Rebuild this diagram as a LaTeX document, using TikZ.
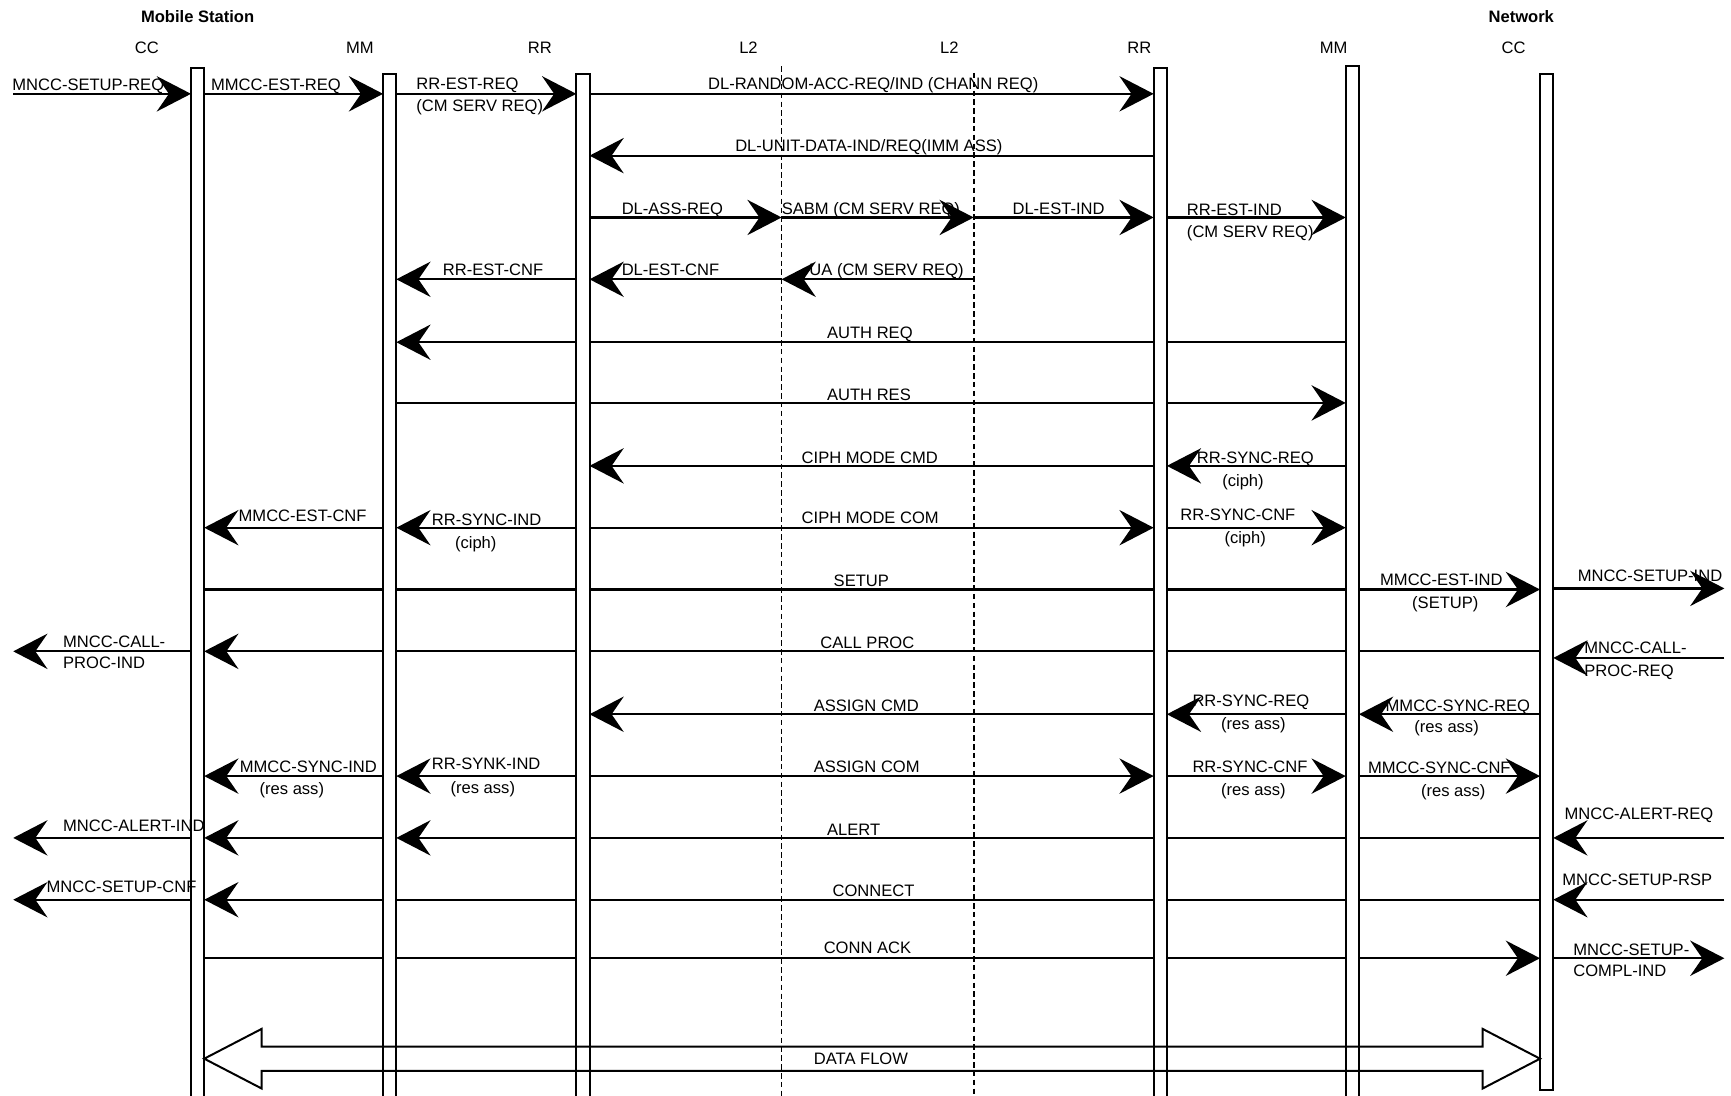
\documentclass[tikz,border=0pt]{standalone}
\usepackage{fontspec}
\setmainfont{Liberation Sans}
\usetikzlibrary{arrows.meta}
\newcommand\lb[4]{\node[lab] (#1) at (#2,#3+5.4) {#4};}
\newcommand\mg[4][msg]{\draw[#1] (#2 |- 0,#4) -- (#3 |- 0,#4);}
\begin{document}
\begin{tikzpicture}[x=1pt,y=-1pt,
  every node/.style={inner sep=0pt, font=\fontsize{15}{18}\selectfont},
  lab/.style={anchor=base west},
  clab/.style={anchor=base},
  msg/.style={line width=2pt, -{Stealth[length=31pt,width=32pt,inset=11pt]}},
  plainmsg/.style={line width=2pt},
  lifebar/.style={draw, fill=white, line width=1.8pt},
  l2line/.style={line width=1.5pt, dash pattern=on 5pt off 3pt},
  flow/.style={line width=1.8pt, line join=miter}]
\useasboundingbox (0,0) rectangle (1568,992);
% lifeline positions
\coordinate (oL) at (12,0);
\coordinate (oR) at (1562,0);
\coordinate (c1L) at (173,0);  \coordinate (c1R) at (185,0);
\coordinate (m1L) at (347,0);  \coordinate (m1R) at (359,0);
\coordinate (r1L) at (522,0);  \coordinate (r1R) at (534,0);
\coordinate (la) at (708,0);   \coordinate (lb) at (882,0);
\coordinate (r2L) at (1045,0); \coordinate (r2R) at (1057,0);
\coordinate (m2L) at (1219,0); \coordinate (m2R) at (1231,0);
\coordinate (c2L) at (1395,0); \coordinate (c2R) at (1407,0);

% messages
\mg{oL}{c1L}{85} \mg{c1R}{m1L}{85} \mg{m1R}{r1L}{85} \mg{r1R}{r2L}{85}
\mg{r2L}{r1R}{141}
\mg{r1R}{la}{197} \mg{la}{lb}{197} \mg{lb}{r2L}{197} \mg{r2R}{m2L}{197}
\mg{r1L}{m1R}{253} \mg{la}{r1R}{253} \mg{lb}{la}{253}
\mg{m2L}{m1R}{310}
\mg{m1R}{m2L}{365}
\mg{r2L}{r1R}{422} \mg{m2L}{r2R}{422}
\mg{m1L}{c1R}{478} \mg{r1L}{m1R}{478} \mg{r1R}{r2L}{478} \mg{r2R}{m2L}{478}
\mg[plainmsg]{c1R}{m2L}{534} \mg{m2R}{c2L}{534} \mg{c2R}{oR}{533}
\mg{c2L}{c1R}{590} \mg{c1L}{oL}{590} \mg{oR}{c2R}{596}
\mg{r2L}{r1R}{647} \mg{m2L}{r2R}{647} \mg{c2L}{m2R}{647}
\mg{m1L}{c1R}{703} \mg{r1L}{m1R}{703} \mg{r1R}{r2L}{703} \mg{r2R}{m2L}{703} \mg{m2R}{c2L}{703}
\mg{c2L}{m1R}{759} \mg{m1L}{c1R}{759} \mg{c1L}{oL}{759} \mg{oR}{c2R}{759}
\mg{c2L}{c1R}{815} \mg{c1L}{oL}{815} \mg{oR}{c2R}{815}
\mg{c1R}{c2L}{868} \mg{c2R}{oR}{868}

% lifelines
\draw[lifebar] (c1L |- 0,62) rectangle (c1R |- 0,1000);
\draw[lifebar] (m1L |- 0,67) rectangle (m1R |- 0,1000);
\draw[lifebar] (r1L |- 0,67) rectangle (r1R |- 0,1000);
\draw[lifebar] (r2L |- 0,62) rectangle (r2R |- 0,1000);
\draw[lifebar] (m2L |- 0,60) rectangle (m2R |- 0,1000);
\draw[lifebar] (c2L |- 0,67) rectangle (c2R |- 0,987);
\draw[l2line] (la |- 0,60) -- (la |- 0,1000);
\draw[l2line] (lb |- 0,66) -- (lb |- 0,1000);

% data flow
\draw[flow] (c1R |- 0,959) -- (237,932) -- (237,948) -- (1343,948) -- (1343,932)
  -- (c2L |- 0,959) -- (1343,986) -- (1343,970) -- (237,970) -- (237,986) -- cycle;

% headers
\node[clab, font=\fontsize{15}{18}\selectfont\bfseries] (hms) at (179,20.4) {Mobile Station};
\node[clab, font=\fontsize{15}{18}\selectfont\bfseries] (hnw) at (1378,20.4) {Network};
\node[clab] (h1) at (133,48.4) {CC};
\node[clab] (h2) at (326,48.4) {MM};
\node[clab] (h3) at (489,48.4) {RR};
\node[clab] (h4) at (678,48.4) {L2};
\node[clab] (h5) at (860,48.4) {L2};
\node[clab] (h6) at (1032,48.4) {RR};
\node[clab] (h7) at (1208,48.4) {MM};
\node[clab] (h8) at (1371,48.4) {CC};

% labels
\lb{t1}{11}{77}{MNCC-SETUP-REQ}
\lb{t2}{191}{77}{MMCC-EST-REQ}
\lb{t3}{377}{76}{RR-EST-REQ}
\lb{t4}{377}{96}{(CM SERV REQ)}
\node[clab] (t5) at (791,81.4) {DL-RANDOM-ACC-REQ/IND (CHANN REQ)};
\node[clab] (t6) at (787,137.4) {DL-UNIT-DATA-IND/REQ(IMM ASS)};
\lb{t7}{563}{189}{DL-ASS-REQ}
\lb{t8}{708}{189}{SABM (CM SERV REQ)}
\lb{t9}{917}{189}{DL-EST-IND}
\lb{t10}{1075}{190}{RR-EST-IND}
\lb{t11}{1075}{210}{(CM SERV REQ)}
\lb{t12}{401}{244}{RR-EST-CNF}
\lb{t13}{563}{244.5}{DL-EST-CNF}
\lb{t14}{733}{244.5}{UA (CM SERV REQ)}
\lb{t15}{749}{301}{AUTH REQ}
\lb{t16}{749}{357}{AUTH RES}
\lb{t17}{726}{414}{CIPH MODE CMD}
\lb{t18}{1084}{414}{RR-SYNC-REQ}
\lb{t19}{1107}{435}{(ciph)}
\lb{t20}{216}{467}{MMCC-EST-CNF}
\lb{t21}{391}{471}{RR-SYNC-IND}
\lb{t22}{412}{491}{(ciph)}
\lb{t23}{726}{469}{CIPH MODE COM}
\lb{t24}{1069}{466}{RR-SYNC-CNF}
\lb{t25}{1109}{487}{(ciph)}
\lb{t26}{755}{526}{SETUP}
\lb{t27}{1250}{525}{MMCC-EST-IND}
\lb{t28}{1279}{546}{(SETUP)}
\lb{t29}{1429}{521}{MNCC-SETUP-IND}
\lb{t30}{743}{582}{CALL PROC}
\lb{t31}{57}{581}{MNCC-CALL-}
\lb{t32}{57}{600}{PROC-IND}
\lb{t33}{1435}{587}{MNCC-CALL-}
\lb{t34}{1435}{607}{PROC-REQ}
\lb{t35}{737}{639}{ASSIGN CMD}
\lb{t36}{1080}{635}{RR-SYNC-REQ}
\lb{t37}{1106}{655}{(res ass)}
\lb{t38}{1255}{639}{MMCC-SYNC-REQ}
\lb{t39}{1281}{658}{(res ass)}
\lb{t40}{217}{694.5}{MMCC-SYNC-IND}
\lb{t41}{235}{714}{(res ass)}
\lb{t42}{391}{692}{RR-SYNK-IND}
\lb{t43}{408}{713}{(res ass)}
\lb{t44}{737}{694.5}{ASSIGN COM}
\lb{t45}{1080}{694.5}{RR-SYNC-CNF}
\lb{t46}{1106}{715}{(res ass)}
\lb{t47}{1239}{695}{MMCC-SYNC-CNF}
\lb{t48}{1287}{716}{(res ass)}
\lb{t49}{749}{751}{ALERT}
\lb{t50}{57}{748}{MNCC-ALERT-IND}
\lb{t51}{1417}{737}{MNCC-ALERT-REQ}
\lb{t52}{754}{807}{CONNECT}
\lb{t53}{42}{803}{MNCC-SETUP-CNF}
\lb{t54}{1415}{797}{MNCC-SETUP-RSP}
\lb{t55}{746}{858}{CONN ACK}
\lb{t56}{1425}{860}{MNCC-SETUP-}
\lb{t57}{1425}{879}{COMPL-IND}
\lb{t58}{737}{959}{DATA FLOW}
\end{tikzpicture}
\end{document}
